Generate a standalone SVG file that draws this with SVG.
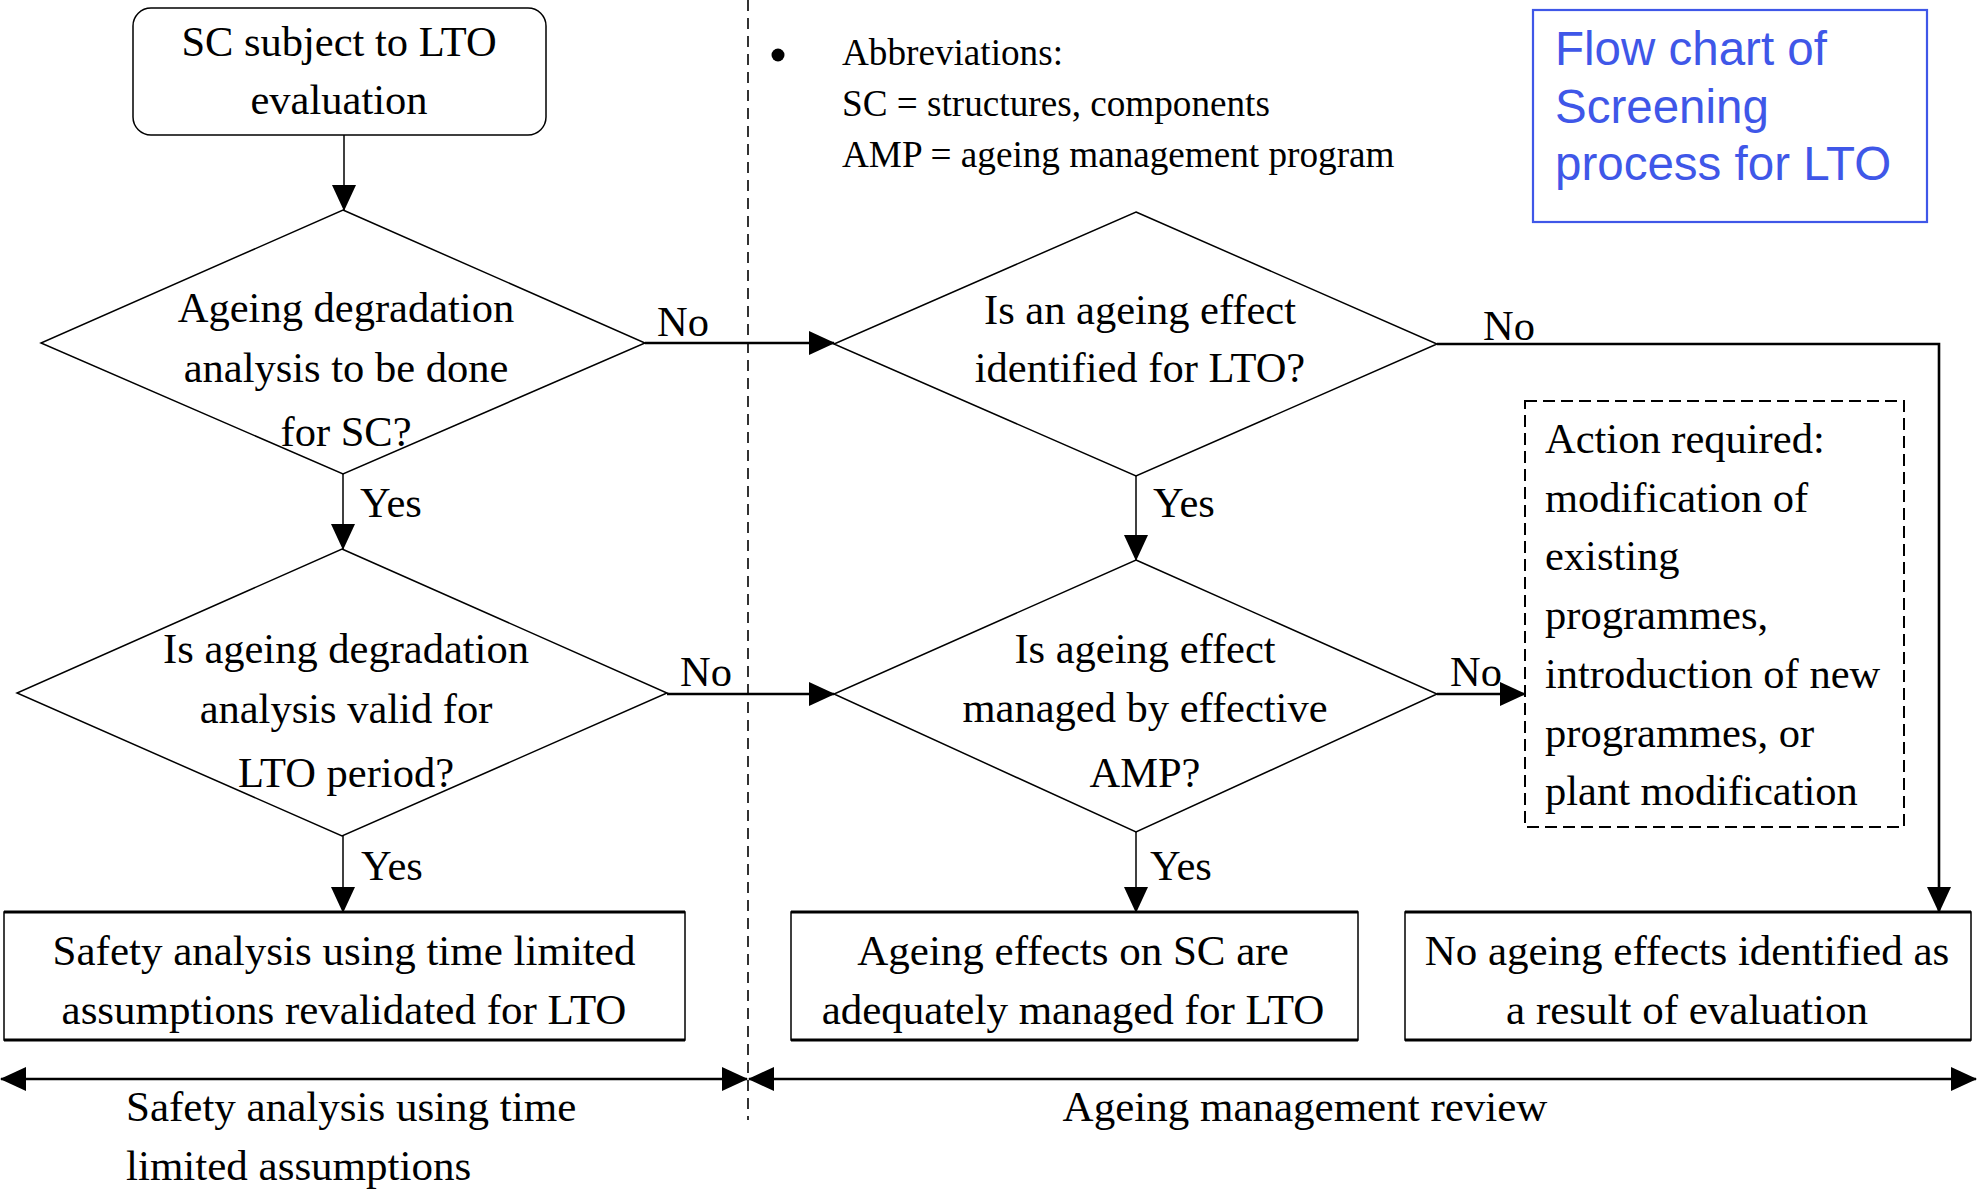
<svg xmlns="http://www.w3.org/2000/svg" width="1977" height="1189" viewBox="0 0 1977 1189">
<style>
text{font-family:"Liberation Serif","Times New Roman",serif;font-size:42.5px;fill:#000}
.c{text-anchor:middle}
.b{font-size:43px}
.ab{font-size:37.2px}
.blue{font-family:"Liberation Sans",Arial,sans-serif;font-size:47.5px;fill:#3f57e8}
.shape{fill:#fff;stroke:#000;stroke-width:1.5}
.thin{fill:none;stroke:#000;stroke-width:1.5}
.thick{fill:none;stroke:#000;stroke-width:2.6}
</style>
<defs>
<marker id="ah" markerUnits="userSpaceOnUse" markerWidth="26" markerHeight="24" refX="25" refY="12" orient="auto-start-reverse" viewBox="0 0 26 24">
<path d="M0,0 L26,12 L0,24 z" fill="#000"/>
</marker>
</defs>
<rect x="0" y="0" width="1977" height="1189" fill="#fff"/>
<line x1="748" y1="0" x2="748" y2="1120" stroke="#000" stroke-width="1.6" stroke-dasharray="11,7"/>
<g id="abbrev">
<circle cx="778" cy="55" r="6.5" fill="#000"/>
<text class="ab" x="842" y="65">Abbreviations:</text>
<text class="ab" x="842" y="116">SC = structures, components</text>
<text class="ab" x="842" y="167">AMP = ageing management program</text>
</g>
<g id="title">
<rect x="1533" y="10" width="394" height="212" fill="none" stroke="#3f57e8" stroke-width="2.2"/>
<text class="blue" x="1555" y="65">Flow chart of</text>
<text class="blue" x="1555" y="123">Screening</text>
<text class="blue" x="1555" y="180">process for LTO</text>
</g>
<g id="connectors">
<line class="thin" x1="344" y1="135" x2="344" y2="210" marker-end="url(#ah)"/>
<line class="thick" x1="645" y1="343" x2="834" y2="343" marker-end="url(#ah)"/>
<line class="thin" x1="343" y1="474" x2="343" y2="549" marker-end="url(#ah)"/>
<line class="thick" x1="667" y1="694" x2="834" y2="694" marker-end="url(#ah)"/>
<line class="thin" x1="343" y1="836" x2="343" y2="912" marker-end="url(#ah)"/>
<polyline class="thick" points="1437,344 1939,344 1939,912" marker-end="url(#ah)"/>
<line class="thin" x1="1136" y1="476" x2="1136" y2="560" marker-end="url(#ah)"/>
<line class="thick" x1="1437" y1="694" x2="1525" y2="694" marker-end="url(#ah)"/>
<line class="thin" x1="1136" y1="832" x2="1136" y2="912" marker-end="url(#ah)"/>
<line class="thick" x1="1" y1="1079" x2="747" y2="1079" marker-start="url(#ah)" marker-end="url(#ah)"/>
<line class="thick" x1="749" y1="1079" x2="1976" y2="1079" marker-start="url(#ah)" marker-end="url(#ah)"/>
<text x="657" y="336">No</text>
<text x="680" y="686">No</text>
<text x="1483" y="340">No</text>
<text x="1450" y="686">No</text>
<text x="360" y="517">Yes</text>
<text x="361" y="880">Yes</text>
<text x="1153" y="517">Yes</text>
<text x="1150" y="880">Yes</text>
</g>
<g id="start">
<rect class="shape" x="133" y="8" width="413" height="127" rx="18"/>
<text class="c" x="339" y="56">SC subject to LTO</text>
<text class="c" x="339" y="114">evaluation</text>
</g>
<g id="d1">
<polygon class="shape" points="343,210 645,343 343,474 41,343"/>
<text class="c" x="346" y="322">Ageing degradation</text>
<text class="c" x="346" y="382">analysis to be done</text>
<text class="c" x="346" y="446">for SC?</text>
</g>
<g id="d2">
<polygon class="shape" points="342,549 667,693 342,836 17,693"/>
<text class="c" x="346" y="663">Is ageing degradation</text>
<text class="c" x="346" y="723">analysis valid for</text>
<text class="c" x="346" y="787">LTO period?</text>
</g>
<g id="d3">
<polygon class="shape" points="1136,212 1437,344 1136,476 834,344"/>
<text class="c" x="1140" y="324">Is an ageing effect</text>
<text class="c" x="1140" y="382">identified for LTO?</text>
</g>
<g id="d4">
<polygon class="shape" points="1136,560 1437,694 1136,832 834,694"/>
<text class="c" x="1145" y="663">Is ageing effect</text>
<text class="c" x="1145" y="722">managed by effective</text>
<text class="c" x="1145" y="787">AMP?</text>
</g>
<g id="action">
<rect x="1525" y="401" width="379" height="426" fill="none" stroke="#000" stroke-width="2" stroke-dasharray="12,6"/>
<text x="1545" y="453">Action required:</text>
<text x="1545" y="512">modification of</text>
<text x="1545" y="570">existing</text>
<text x="1545" y="629">programmes,</text>
<text x="1545" y="688">introduction of new</text>
<text x="1545" y="747">programmes, or</text>
<text x="1545" y="805">plant modification</text>
</g>
<g id="box1">
<rect class="shape" x="4" y="912" width="681" height="128" stroke-width="1.2"/>
<line x1="4" y1="912" x2="685" y2="912" stroke="#000" stroke-width="3"/>
<line x1="4" y1="1040" x2="685" y2="1040" stroke="#000" stroke-width="3"/>
<text class="c b" x="344" y="965">Safety analysis using time limited</text>
<text class="c b" x="344" y="1024">assumptions revalidated for LTO</text>
</g>
<g id="box2">
<rect class="shape" x="791" y="912" width="567" height="128" stroke-width="1.2"/>
<line x1="791" y1="912" x2="1358" y2="912" stroke="#000" stroke-width="3"/>
<line x1="791" y1="1040" x2="1358" y2="1040" stroke="#000" stroke-width="3"/>
<text class="c b" x="1073" y="965">Ageing effects on SC are</text>
<text class="c b" x="1073" y="1024">adequately managed for LTO</text>
</g>
<g id="box3">
<rect class="shape" x="1405" y="912" width="566" height="128" stroke-width="1.2"/>
<line x1="1405" y1="912" x2="1971" y2="912" stroke="#000" stroke-width="3"/>
<line x1="1405" y1="1040" x2="1971" y2="1040" stroke="#000" stroke-width="3"/>
<text class="c b" x="1687" y="965">No ageing effects identified as</text>
<text class="c b" x="1687" y="1024">a result of evaluation</text>
</g>
<g id="labels">
<text class="b" x="126" y="1121">Safety analysis using time</text>
<text class="b" x="126" y="1180">limited assumptions</text>
<text class="c b" x="1305" y="1121">Ageing management review</text>
</g>
</svg>
